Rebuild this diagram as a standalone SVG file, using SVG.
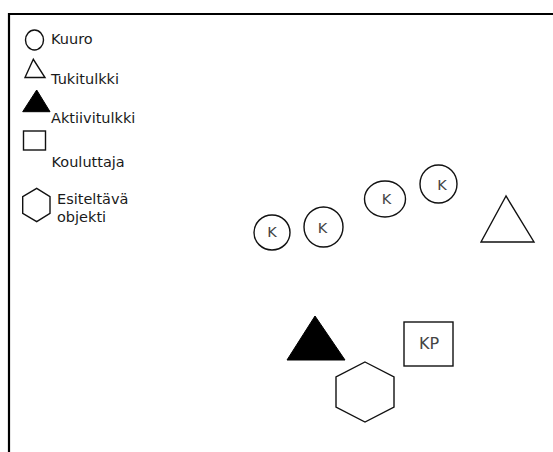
<svg xmlns="http://www.w3.org/2000/svg" width="553" height="452" viewBox="0 0 553 452">
  <style>
    .shape { fill: #fff; stroke: #111; stroke-width: 1.4; }
    .solid { fill: #000; stroke: #000; stroke-width: 1; }
    .legend { font-family: "DejaVu Sans", Verdana, sans-serif; font-size: 14.5px; fill: #1a1a1a; }
    .lbl { font-family: "DejaVu Sans", Verdana, sans-serif; font-size: 14.5px; fill: #444; text-anchor: middle; }
  </style>
  <rect width="553" height="452" fill="#fff"/>
  <!-- frame (open to the right and bottom edges) -->
  <path d="M9 452 V14 H553" fill="none" stroke="#000" stroke-width="2.2"/>

  <!-- legend -->
  <g id="legend">
    <g id="legend-kuuro">
      <ellipse class="shape" cx="34.5" cy="40" rx="9" ry="10"/>
      <text class="legend" x="51" y="43.5">Kuuro</text>
    </g>
    <g id="legend-tukitulkki">
      <polygon class="shape" points="33.3,59.3 25,77.5 45,77.5"/>
      <text class="legend" x="51" y="84">Tukitulkki</text>
    </g>
    <g id="legend-aktiivitulkki">
      <polygon class="solid" points="36.7,90 22.7,111.7 50,111.7"/>
      <text class="legend" x="51" y="122.7">Aktiivitulkki</text>
    </g>
    <g id="legend-kouluttaja">
      <rect class="shape" x="23.5" y="131" width="22" height="19"/>
      <text class="legend" x="51.5" y="167">Kouluttaja</text>
    </g>
    <g id="legend-objekti">
      <polygon class="shape" points="36.7,188.3 50,196.7 50,213.3 36.7,221.7 22.7,213.3 22.7,196.7"/>
      <text class="legend" x="57" y="203.5">Esiteltävä</text>
      <text class="legend" x="57" y="221.5">objekti</text>
    </g>
  </g>

  <!-- connectors (none in this layout) -->
  <g id="connectors"/>

  <!-- deaf participants -->
  <g id="k1">
    <ellipse class="shape" cx="272" cy="232.5" rx="18" ry="17.5"/>
    <text class="lbl" x="272" y="236.5">K</text>
  </g>
  <g id="k2">
    <ellipse class="shape" cx="323.5" cy="227" rx="19.5" ry="20"/>
    <text class="lbl" x="322.5" y="232.5">K</text>
  </g>
  <g id="k3">
    <ellipse class="shape" cx="385" cy="199" rx="20.5" ry="18"/>
    <text class="lbl" x="386.5" y="204">K</text>
  </g>
  <g id="k4">
    <ellipse class="shape" cx="438.5" cy="184" rx="18.5" ry="19"/>
    <text class="lbl" x="442" y="190">K</text>
  </g>

  <!-- support interpreter -->
  <g id="tukitulkki">
    <polygon class="shape" points="506,196 481,242 534,242"/>
  </g>

  <!-- active interpreter -->
  <g id="aktiivitulkki">
    <polygon class="solid" points="315,316 287,360 345,360"/>
  </g>

  <!-- trainer -->
  <g id="kouluttaja">
    <rect class="shape" x="404" y="322" width="49" height="44"/>
    <text class="lbl" x="429" y="348.5" style="font-size:16px">KP</text>
  </g>

  <!-- object on display -->
  <g id="objekti">
    <polygon class="shape" points="365,362 394,377 394,407 365,422 336,407 336,377"/>
  </g>
</svg>
